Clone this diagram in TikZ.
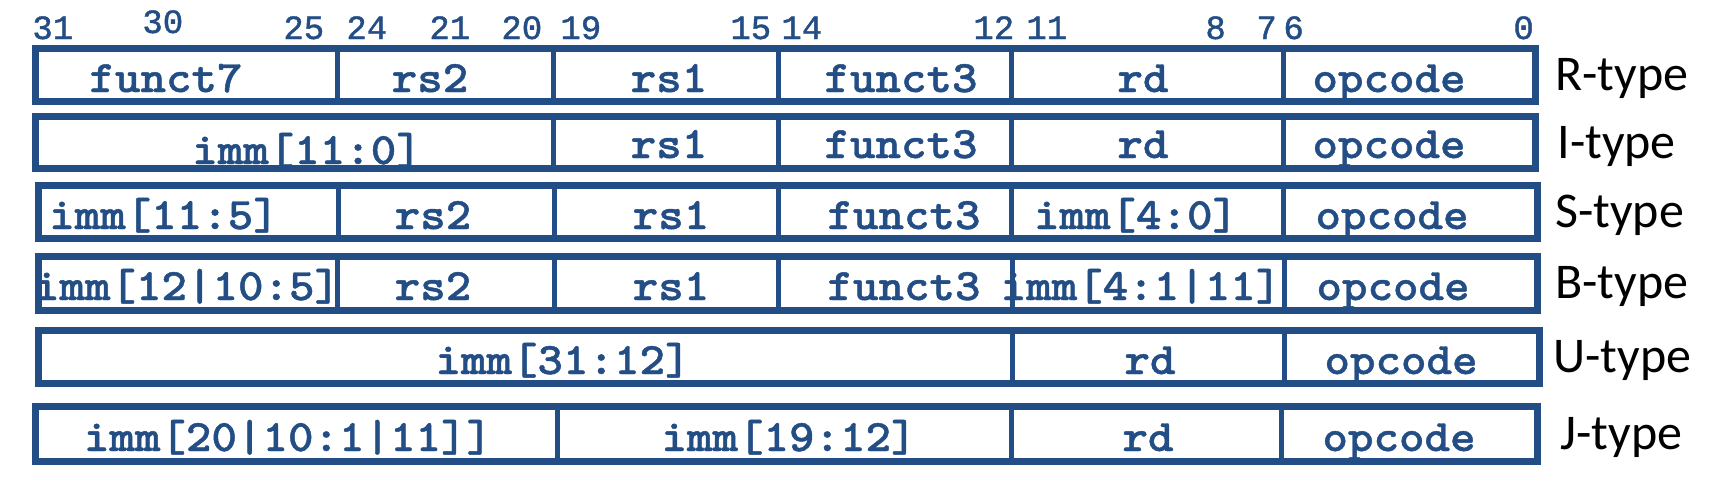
\documentclass[tikz,border=0pt]{standalone}
\usepackage{fontspec}
\newfontfamily\bitfont{Liberation Mono}[FakeBold=1.2]
\newfontfamily\fieldfont{lmmonolt10-bold.otf}[FakeStretch=1.08,FakeBold=1]
\newfontfamily\typefont{Carlito}
\definecolor{isablue}{RGB}{35,77,133}

\begin{document}
\begin{tikzpicture}[x=0.5pt,y=-0.5pt,
    frame/.style={draw=isablue,line width=3.5pt},
    divider/.style={draw=isablue,line width=2.5pt},
    field/.style={anchor=base,inner sep=0pt,text=isablue,font=\fieldfont\fontsize{22.5}{24}\selectfont},
    bit/.style={anchor=base west,inner sep=0pt,text=isablue,font=\bitfont\fontsize{17}{18}\selectfont},
    fmt/.style={anchor=base west,inner sep=0pt,font=\typefont\fontsize{25}{28}\selectfont}]
    \useasboundingbox (0,0) rectangle (1711,488);

    % bit positions
    \node[bit] (b31) at (32,39) {31};
    \node[bit] (b30) at (142,33) {30};
    \node[bit] (b25) at (283,39) {25};
    \node[bit] (b24) at (346,39) {24};
    \node[bit] (b21) at (429,39) {21};
    \node[bit] (b20) at (501,39) {20};
    \node[bit] (b19) at (560,39) {19};
    \node[bit] (b15) at (730,39) {15};
    \node[bit] (b14) at (781,39) {14};
    \node[bit] (b12) at (973,39) {12};
    \node[bit] (b11) at (1026,39) {11};
    \node[bit] (b8) at (1205,39) {8};
    \node[bit] (b7) at (1256,39) {7};
    \node[bit] (b6) at (1283,39) {6};
    \node[bit] (b0) at (1513,39) {0};

    % R-type
    \draw[frame] (35,48.5) rectangle (1535,101.5);
    \draw[divider] (337,48.5) -- (337,101.5);
    \draw[divider] (553,48.5) -- (553,101.5);
    \draw[divider] (778,48.5) -- (778,101.5);
    \draw[divider] (1011,48.5) -- (1011,101.5);
    \draw[divider] (1283,48.5) -- (1283,101.5);
    \node[field] (r_f7) at (166,92) {funct7};
    \node[field] (r_rs2) at (430,92) {rs2};
    \node[field] (r_rs1) at (669,92) {rs1};
    \node[field] (r_f3) at (901,92) {funct3};
    \node[field] (r_rd) at (1143,92) {rd};
    \node[field] (r_op) at (1389,92) {opcode};
    \node[fmt] (r_t) at (1555,90) {R-type};

    % I-type
    \draw[frame] (35,116.5) rectangle (1535,168.5);
    \draw[divider] (553,116.5) -- (553,168.5);
    \draw[divider] (778,116.5) -- (778,168.5);
    \draw[divider] (1011,116.5) -- (1011,168.5);
    \draw[divider] (1283,116.5) -- (1283,168.5);
    \node[field] (i_imm) at (307,164) {imm[11:0]};
    \node[field] (i_rs1) at (669,158) {rs1};
    \node[field] (i_f3) at (901,158) {funct3};
    \node[field] (i_rd) at (1143,158) {rd};
    \node[field] (i_op) at (1389,158) {opcode};
    \node[fmt] (i_t) at (1557,158) {I-type};

    % S-type
    \draw[frame] (38.5,185) rectangle (1537,238.5);
    \draw[divider] (338,185) -- (338,238.5);
    \draw[divider] (554,185) -- (554,238.5);
    \draw[divider] (778,185) -- (778,238.5);
    \draw[divider] (1011,185) -- (1011,238.5);
    \draw[divider] (1283,185) -- (1283,238.5);
    \node[field] (s_imm) at (164,229) {imm[11:5]};
    \node[field] (s_rs2) at (433,229) {rs2};
    \node[field] (s_rs1) at (671,229) {rs1};
    \node[field] (s_f3) at (904,229) {funct3};
    \node[field] (s_imm2) at (1136,229) {imm[4:0]};
    \node[field] (s_op) at (1392,229) {opcode};
    \node[fmt] (s_t) at (1555,227) {S-type};

    % B-type
    \draw[frame] (38.5,256.5) rectangle (1537,310);
    \draw[divider] (337,256.5) -- (337,310);
    \draw[divider] (554,256.5) -- (554,310);
    \draw[divider] (778,256.5) -- (778,310);
    \draw[divider] (1012,256.5) -- (1012,310);
    \draw[divider] (1284,256.5) -- (1284,310);
    \node[field] (b_imm) at (187,300) {imm[12|10:5]};
    \node[field] (b_rs2) at (433,300) {rs2};
    \node[field] (b_rs1) at (671,300) {rs1};
    \node[field] (b_f3) at (904,300) {funct3};
    \node[field] (b_imm2) at (1141,300) {imm[4:1|11]};
    \node[field] (b_op) at (1393,300) {opcode};
    \node[fmt] (b_t) at (1555,298) {B-type};

    % U-type
    \draw[frame] (38.5,330) rectangle (1539,383.5);
    \draw[divider] (1012,330) -- (1012,383.5);
    \draw[divider] (1284,330) -- (1284,383.5);
    \node[field] (u_imm) at (563,374) {imm[31:12]};
    \node[field] (u_rd) at (1150,374) {rd};
    \node[field] (u_op) at (1401,374) {opcode};
    \node[fmt] (u_t) at (1553,372) {U-type};

    % J-type
    \draw[frame] (35,406.5) rectangle (1537,461.5);
    \draw[divider] (557,406.5) -- (557,461.5);
    \draw[divider] (1011,406.5) -- (1011,461.5);
    \draw[divider] (1281,406.5) -- (1281,461.5);
    \node[field] (j_imm) at (288,451) {imm[20|10:1|11]]};
    \node[field] (j_imm2) at (789,451) {imm[19:12]};
    \node[field] (j_rd) at (1148,451) {rd};
    \node[field] (j_op) at (1399,451) {opcode};
    \node[fmt] (j_t) at (1560,449) {J-type};
\end{tikzpicture}
\end{document}
